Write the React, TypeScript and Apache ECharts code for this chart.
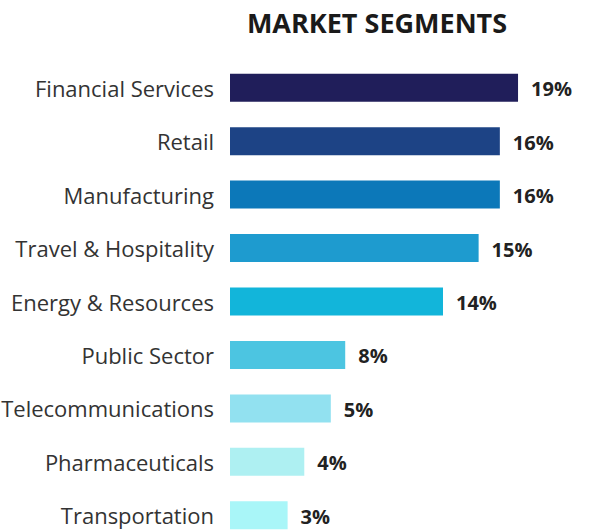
import React, { useEffect, useRef } from "react";
import * as echarts from "echarts";

const categories = [
  "Financial Services",
  "Retail",
  "Manufacturing",
  "Travel & Hospitality",
  "Energy & Resources",
  "Public Sector",
  "Telecommunications",
  "Pharmaceuticals",
  "Transportation",
];
// bar lengths as drawn in the picture (relative units)
const barLengths = [19, 17.8, 17.8, 16.4, 14.05, 7.6, 6.65, 4.9, 3.8];
// percentage labels
const shares = [19, 16, 16, 15, 14, 8, 5, 4, 3];
const colors = [
  "#201E5A",
  "#1D4385",
  "#0C78B9",
  "#1E9BCF",
  "#12B5DA",
  "#4CC5E1",
  "#92E1F0",
  "#AEF0F2",
  "#A9F6F8",
];

export default function App() {
  const ref = useRef<HTMLDivElement>(null);
  useEffect(() => {
    if (!ref.current) return;
    const chart = echarts.init(ref.current, null, { renderer: "svg" });
    chart.setOption({
      animation: false,
      backgroundColor: "#ffffff",
      title: {
        text: "MARKET SEGMENTS",
        left: 372,
        textAlign: "center",
        top: 4,
        textStyle: {
          fontFamily: "Open Sans",
          fontWeight: "bold",
          fontSize: 27,
          color: "#1a1a1a",
        },
      },
      grid: {
        left: 230,
        top: 61,
        width: 303.2,
        height: 481,
        containLabel: false,
        outerBoundsMode: "none",
      },
      xAxis: {
        type: "value",
        min: 0,
        max: 20,
        show: false,
      },
      yAxis: {
        type: "category",
        data: categories,
        inverse: true,
        axisLine: { show: false },
        axisTick: { show: false },
        axisLabel: {
          margin: 16,
          fontFamily: "Open Sans",
          fontSize: 22,
          color: "#333333",
        },
      },
      series: [
        {
          type: "bar",
          barWidth: 28,
          data: barLengths.map((v, i) => ({ value: v, itemStyle: { color: colors[i] } })),
          label: {
            show: true,
            position: "right",
            distance: 13,
            formatter: (p: any) => `${shares[p.dataIndex]}%`,
            fontFamily: "Open Sans",
            fontWeight: "bold",
            fontSize: 20,
            color: "#222222",
            offset: [0, 1],
          },
        },
      ],
    });
    return () => chart.dispose();
  }, []);
  return (
    <div
      ref={ref}
      style={{ position: "fixed", left: 0, top: 0, width: 592, height: 531 }}
    />
  );
}
